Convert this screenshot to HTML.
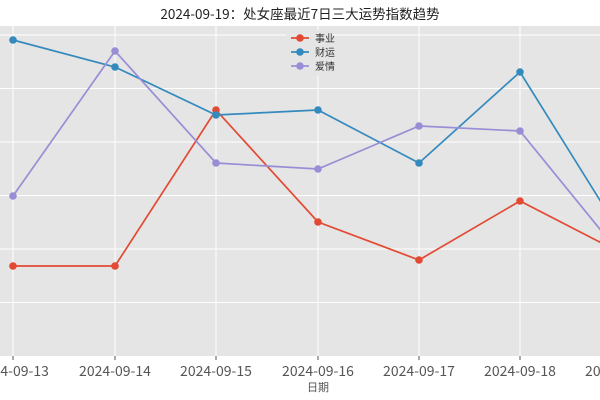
<!DOCTYPE html>
<html><head><meta charset="utf-8"><style>
html,body{margin:0;padding:0;background:#fff;width:600px;height:400px;overflow:hidden}
svg text{font-family:"Noto Sans CJK SC","WenQuanYi Zen Hei",sans-serif}
</style></head><body>
<svg width="600" height="400" xmlns="http://www.w3.org/2000/svg">
<rect x="0" y="26" width="600" height="330" fill="#E5E5E5"/>
<g stroke="#fff" stroke-width="1">
<line x1="0" x2="600" y1="35" y2="35"/><line x1="0" x2="600" y1="88.5" y2="88.5"/>
<line x1="0" x2="600" y1="142" y2="142"/><line x1="0" x2="600" y1="195.5" y2="195.5"/>
<line x1="0" x2="600" y1="249" y2="249"/><line x1="0" x2="600" y1="302.5" y2="302.5"/>
<line x1="13" x2="13" y1="26" y2="356"/><line x1="115" x2="115" y1="26" y2="356"/>
<line x1="216" x2="216" y1="26" y2="356"/><line x1="318" x2="318" y1="26" y2="356"/>
<line x1="419" x2="419" y1="26" y2="356"/><line x1="520" x2="520" y1="26" y2="356"/>
</g>
<g stroke="#555" stroke-width="1">
<line x1="13" x2="13" y1="356" y2="360"/><line x1="115" x2="115" y1="356" y2="360"/><line x1="216" x2="216" y1="356" y2="360"/><line x1="318" x2="318" y1="356" y2="360"/><line x1="419" x2="419" y1="356" y2="360"/><line x1="520" x2="520" y1="356" y2="360"/>
</g>
<g fill="none" stroke-width="1.7">
<polyline stroke="#E24A33" points="13,266 115,266 216,110 318,222 419,260 520,201 621,253"/>
<polyline stroke="#348ABD" points="13,40 115,67 216,115 318,110 419,163 520,72 621,234"/>
<polyline stroke="#988ED5" points="13,196 115,51 216,163 318,169 419,126 520,131 621,255"/>
</g>
<g fill="#E24A33"><circle cx="13" cy="266" r="3.8"/><circle cx="115" cy="266" r="3.8"/><circle cx="216" cy="110" r="3.8"/><circle cx="318" cy="222" r="3.8"/><circle cx="419" cy="260" r="3.8"/><circle cx="520" cy="201" r="3.8"/></g>
<g fill="#348ABD"><circle cx="13" cy="40" r="3.8"/><circle cx="115" cy="67" r="3.8"/><circle cx="216" cy="115" r="3.8"/><circle cx="318" cy="110" r="3.8"/><circle cx="419" cy="163" r="3.8"/><circle cx="520" cy="72" r="3.8"/></g>
<g fill="#988ED5"><circle cx="13" cy="196" r="3.8"/><circle cx="115" cy="51" r="3.8"/><circle cx="216" cy="163" r="3.8"/><circle cx="318" cy="169" r="3.8"/><circle cx="419" cy="126" r="3.8"/><circle cx="520" cy="131" r="3.8"/></g>
<rect x="286" y="30" width="46" height="46" fill="#E5E5E5" opacity="0.8"/>
<line x1="291" x2="309" y1="38" y2="38" stroke="#E24A33" stroke-width="1.7"/><circle cx="300" cy="38" r="3.8" fill="#E24A33"/>
<line x1="291" x2="309" y1="52" y2="52" stroke="#348ABD" stroke-width="1.7"/><circle cx="300" cy="52" r="3.8" fill="#348ABD"/>
<line x1="291" x2="309" y1="66" y2="66" stroke="#988ED5" stroke-width="1.7"/><circle cx="300" cy="66" r="3.8" fill="#988ED5"/>
<g font-size="10" fill="#333"><text x="315" y="42">事业</text><text x="315" y="56">财运</text><text x="315" y="70">爱情</text></g>
<text x="300" y="19" font-size="13.5" text-anchor="middle" fill="#222">2024-09-19：处女座最近7日三大运势指数趋势</text>
<g font-size="14" fill="#555" text-anchor="middle">
<text x="13" y="376">2024-09-13</text><text x="115" y="376">2024-09-14</text><text x="216" y="376">2024-09-15</text><text x="318" y="376">2024-09-16</text><text x="419" y="376">2024-09-17</text><text x="520" y="376">2024-09-18</text><text x="621" y="376">2024-09-19</text>
</g>
<text x="318" y="391" font-size="11" fill="#555" text-anchor="middle">日期</text>
</svg>
</body></html>
